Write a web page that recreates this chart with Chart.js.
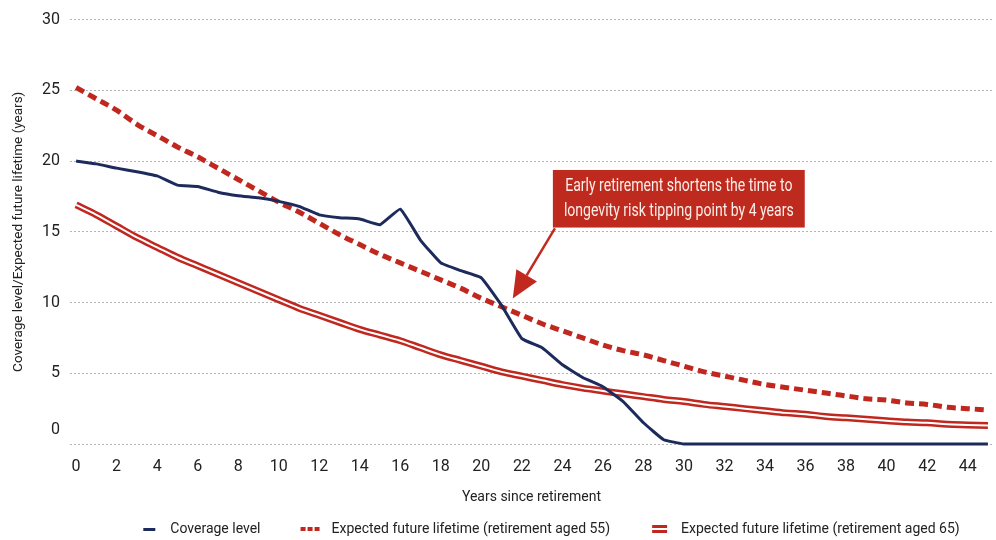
<!DOCTYPE html>
<html>
<head>
<meta charset="utf-8">
<script src="https://cdn.jsdelivr.net/npm/chart.js@4.4.1/dist/chart.umd.min.js"></script>
<style>
  html, body { margin: 0; padding: 0; background: #ffffff; }
  #wrap { width: 996px; height: 540px; }
</style>
</head>
<body>
<div id="wrap"><canvas id="lifetimeChart"></canvas></div>
<script>
const years = [];
for (let i = 0; i <= 45; i++) years.push(i);

const xTickValues = [0, 2, 4, 6, 8, 10, 12, 14, 16, 18, 20, 22, 24, 26, 28, 30, 32, 34, 36, 38, 40, 42, 44];
const yTickValues = [0, 5, 10, 15, 20, 25, 30];

const coverageLevel = [20.0, 19.8, 19.5, 19.25, 18.95, 18.3, 18.2, 17.8, 17.55, 17.4,
    17.15, 16.8, 16.2, 16.0, 15.9, 15.5, 16.6, 14.4, 12.8, 12.25,
    11.75, 9.8, 7.45, 6.8, 5.6, 4.7, 4.05, 3.0, 1.5, 0.3,
    0, 0, 0, 0, 0, 0, 0, 0, 0, 0, 0, 0, 0, 0, 0, 0];

const lifetimeAged55 = [25.2, 24.4, 23.6, 22.6, 21.8, 21.0, 20.3, 19.5, 18.7, 17.9,
    17.1, 16.4, 15.6, 14.8, 14.1, 13.4, 12.8, 12.2, 11.6, 11.0,
    10.3, 9.7, 9.1, 8.5, 8.0, 7.5, 7.0, 6.6, 6.3, 5.9,
    5.5, 5.1, 4.8, 4.5, 4.2, 4.0, 3.8, 3.6, 3.4, 3.2,
    3.1, 2.9, 2.8, 2.6, 2.5, 2.4];

const lifetimeAged65 = [16.9, 16.2, 15.4, 14.6, 13.9, 13.2, 12.6, 12.0, 11.4, 10.8,
    10.2, 9.6, 9.1, 8.6, 8.1, 7.7, 7.3, 6.8, 6.3, 5.9,
    5.5, 5.1, 4.8, 4.5, 4.2, 3.95, 3.75, 3.55, 3.35, 3.15,
    3.0, 2.8, 2.65, 2.5, 2.35, 2.2, 2.1, 1.95, 1.85, 1.75,
    1.65, 1.55, 1.5, 1.4, 1.35, 1.3];

const seriesNames = ['Coverage level', 'Expected future lifetime (retirement aged 55)', 'Expected future lifetime (retirement aged 65)'];
const noteLines = ['Early retirement shortens the time to', 'longevity risk tipping point by 4 years'];

const navy = '#1d2a5c';
const red = '#c0281f';
const fontName = 'Roboto, "Liberation Sans", sans-serif';
const legendBox = 60;

function toPoints(values) {
    return values.map((v, i) => ({ x: years[i], y: v }));
}

// legend markers, drawn at the right end of a wide transparent box
function legendIcon(kind) {
    const c = document.createElement('canvas');
    c.width = legendBox; c.height = 10;
    const g = c.getContext('2d');
    g.fillStyle = kind === 'navy' ? navy : red;
    const end = legendBox - 6;
    if (kind === 'navy') {
        g.fillRect(end - 14, 4, 12, 3);
    } else if (kind === 'dash') {
        g.fillRect(end - 18, 3, 5, 4);
        g.fillRect(end - 11, 3, 5, 4);
        g.fillRect(end - 4, 3, 5, 4);
    } else {
        g.fillRect(end - 16, 1, 15, 3);
        g.fillRect(end - 16, 6, 15, 3);
    }
    return c;
}
const icons = [legendIcon('navy'), legendIcon('dash'), legendIcon('double')];

// text box and arrow
const notePlugin = {
    id: 'note',
    afterDatasetsDraw(chart) {
        const ctx = chart.ctx;
        const x = chart.scales.x, y = chart.scales.y;
        const left = x.getPixelForValue(23.53), right = x.getPixelForValue(35.96);
        const top = y.getPixelForValue(19.37), bottom = y.getPixelForValue(15.3);
        ctx.save();
        ctx.fillStyle = '#bf2a1e';
        ctx.fillRect(left, top, right - left, bottom - top);

        // condensed look: squeeze the text horizontally
        const cx = (left + right) / 2;
        ctx.save();
        ctx.translate(cx, top);
        ctx.scale(0.78, 1);
        ctx.fillStyle = '#fbeee9';
        ctx.font = '18px ' + fontName;
        ctx.textAlign = 'center';
        ctx.textBaseline = 'middle';
        ctx.fillText(noteLines[0], 0, 17);
        ctx.fillText(noteLines[1], 0, 42);
        ctx.restore();

        const sx = x.getPixelForValue(23.63), sy = y.getPixelForValue(15.24);
        const tx = x.getPixelForValue(21.55), ty = y.getPixelForValue(10.28);
        const ang = Math.atan2(ty - sy, tx - sx);
        const headLen = 27, headHalf = 12;
        const bx = tx - headLen * Math.cos(ang), by = ty - headLen * Math.sin(ang);
        ctx.strokeStyle = '#c2291e';
        ctx.lineWidth = 2.5;
        ctx.beginPath();
        ctx.moveTo(sx, sy);
        ctx.lineTo(bx, by);
        ctx.stroke();
        ctx.fillStyle = '#c2291e';
        ctx.beginPath();
        ctx.moveTo(tx, ty);
        ctx.lineTo(bx + headHalf * Math.sin(ang), by - headHalf * Math.cos(ang));
        ctx.lineTo(bx - headHalf * Math.sin(ang), by + headHalf * Math.cos(ang));
        ctx.closePath();
        ctx.fill();

        // the zero label sits a bit above its grid line in the original
        ctx.fillStyle = '#222222';
        ctx.font = '16px ' + fontName;
        ctx.textAlign = 'right';
        ctx.textBaseline = 'middle';
        ctx.fillText('0', y.right - 10, y.getPixelForValue(0) - 14);
        ctx.restore();
    }
};

const ctx = document.getElementById('lifetimeChart').getContext('2d');
const lifetimeChart = new Chart(ctx, {
    type: 'line',
    data: {
        datasets: [{
            label: seriesNames[0],
            data: toPoints(coverageLevel),
            borderColor: navy,
            borderWidth: 3,
            pointRadius: 0,
            tension: 0.1,
            order: 0
        }, {
            label: seriesNames[1],
            data: toPoints(lifetimeAged55),
            borderColor: red,
            borderWidth: 5,
            borderDash: [9, 5],
            pointRadius: 0,
            cubicInterpolationMode: 'monotone',
            order: 1
        }, {
            label: 'inner',
            data: toPoints(lifetimeAged65),
            borderColor: '#ffffff',
            borderWidth: 2,
            pointRadius: 0,
            cubicInterpolationMode: 'monotone',
            order: 2
        }, {
            label: seriesNames[2],
            data: toPoints(lifetimeAged65),
            borderColor: red,
            borderWidth: 7,
            pointRadius: 0,
            cubicInterpolationMode: 'monotone',
            order: 3
        }]
    },
    options: {
        responsive: true,
        maintainAspectRatio: false,
        animation: false,
        clip: false,
        layout: {
            padding: { left: 9, right: 3, top: 17, bottom: -6 }
        },
        scales: {
            x: {
                type: 'linear',
                min: -0.3,
                max: 45.25,
                afterBuildTicks: function(scale) {
                    scale.ticks = xTickValues.map(v => ({ value: v }));
                },
                grid: { display: false, drawTicks: false },
                border: { display: false },
                ticks: {
                    color: '#222222',
                    padding: 13,
                    font: { family: fontName, size: 16 },
                    maxRotation: 0,
                    autoSkip: false
                },
                title: {
                    display: true,
                    text: 'Years since retirement',
                    color: '#222222',
                    font: { family: fontName, size: 14 },
                    padding: { top: 0, bottom: 12 }
                }
            },
            y: {
                min: 0,
                max: 30,
                afterBuildTicks: function(scale) {
                    scale.ticks = yTickValues.map(v => ({ value: v }));
                },
                afterFit: function(scale) {
                    scale.width = 61;
                },
                grid: {
                    color: '#b5b5b5',
                    lineWidth: 1,
                    drawTicks: false
                },
                border: { display: false, dash: [2, 2] },
                ticks: {
                    color: '#222222',
                    padding: 10,
                    font: { family: fontName, size: 16 },
                    callback: function(v) { return v === 0 ? '' : v; }
                },
                title: {
                    display: true,
                    text: 'Coverage level/Expected future lifetime (years)',
                    color: '#222222',
                    font: { family: fontName, size: 13.5 },
                    padding: { top: 2, bottom: 2 }
                }
            }
        },
        plugins: {
            legend: {
                position: 'bottom',
                fullSize: false,
                labels: {
                    color: '#222222',
                    font: { family: fontName, size: 14 },
                    usePointStyle: true,
                    pointStyleWidth: legendBox,
                    padding: 4,
                    generateLabels: function(chart) {
                        return seriesNames.map((name, i) => ({
                            text: name,
                            pointStyle: icons[i],
                            fillStyle: 'transparent',
                            strokeStyle: 'transparent',
                            lineWidth: 0,
                            fontColor: '#222222',
                            datasetIndex: i === 2 ? 3 : i,
                            hidden: false
                        }));
                    }
                }
            },
            tooltip: { enabled: false }
        }
    },
    plugins: [notePlugin]
});
</script>
</body>
</html>
